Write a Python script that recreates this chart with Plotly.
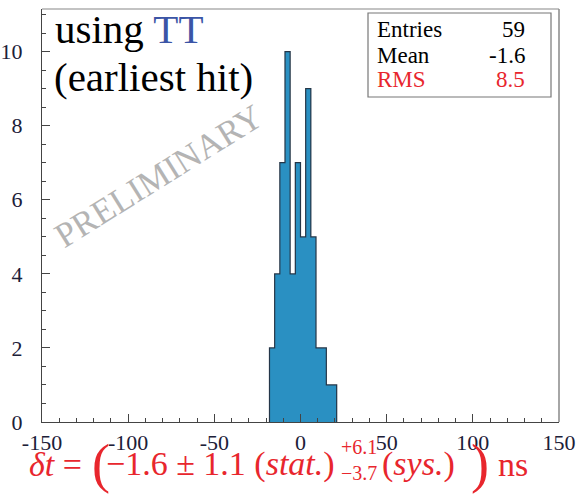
import plotly.graph_objects as go

# ---- data ----
bin_edges = [-18, -15, -12, -9, -6, -3, 0, 3, 6, 9, 12, 15, 18, 21]
counts = [2, 4, 7, 10, 4, 7, 5, 9, 5, 2, 2, 1, 1]
stat_labels = ["Entries", "Mean", "RMS"]
stat_values = ["59", "-1.6", "8.5"]
x_ticks = [-150, -100, -50, 0, 50, 100, 150]
y_ticks = [0, 2, 4, 6, 8, 10]

W, H = 579, 494
L, R, T, B = 42, 20, 9, 72
PW, PH = W - L - R, H - T - B


def px(x):
    return (x - L) / PW


def py(y):
    return (H - B - y) / PH


centers = [(bin_edges[i] + bin_edges[i + 1]) / 2 for i in range(len(counts))]
widths = [bin_edges[i + 1] - bin_edges[i] for i in range(len(counts))]

# step outline
ox, oy = [bin_edges[0]], [0]
for i, c in enumerate(counts):
    ox += [bin_edges[i], bin_edges[i + 1]]
    oy += [c, c]
ox.append(bin_edges[-1])
oy.append(0)

SERIF = "Liberation Serif"
RED = "#e8262d"
TICKC = "#1c2038"

fig = go.Figure()
fig.add_trace(go.Bar(x=centers, y=counts, width=widths,
                     marker=dict(color="#2a90c2", line=dict(width=0)),
                     showlegend=False, hoverinfo="skip"))
fig.add_trace(go.Scatter(x=ox, y=oy, mode="lines",
                         line=dict(color="#243648", width=1.2),
                         showlegend=False, hoverinfo="skip"))

axis_common = dict(
    showgrid=False, zeroline=False, showline=True, linecolor="#444", linewidth=1.2,
    ticks="inside", tickcolor="#444", ticklen=8, tickwidth=1, automargin=False,
    tickfont=dict(family=SERIF, size=22, color=TICKC),
)
fig.update_xaxes(range=[-150, 150], tickvals=x_ticks, ticktext=[str(v) for v in x_ticks],
                 minor=dict(dtick=10, ticks="inside", ticklen=4, tickcolor="#444", showgrid=False),
                 **axis_common)
fig.update_yaxes(range=[0, 11.15], tickvals=y_ticks,
                 ticktext=[str(v) for v in y_ticks],
                 ticklabelposition="outside", ticklabelstandoff=14,
                 minor=dict(dtick=0.5, ticks="inside", ticklen=4, tickcolor="#444", showgrid=False),
                 **axis_common)

shapes = [
    # top and right frame lines
    dict(type="line", xref="paper", yref="paper", x0=0, x1=1, y0=1, y1=1,
         line=dict(color="#888", width=1.2)),
    dict(type="line", xref="paper", yref="paper", x0=1, x1=1, y0=0, y1=1,
         line=dict(color="#888", width=1.5)),
    # stats box
    dict(type="rect", xref="paper", yref="paper", x0=px(368), x1=px(551), y0=py(97), y1=py(13),
         line=dict(color="#777", width=1.2), fillcolor="white"),
]

ann = []


def add(text, x, y, size, color="black", xanchor="left", yanchor="middle", angle=0, family=SERIF):
    ann.append(dict(text=text, x=px(x), y=py(y), xref="paper", yref="paper",
                    xanchor=xanchor, yanchor=yanchor, showarrow=False, textangle=angle,
                    font=dict(family=family, size=size, color=color)))


# stats box text
rows_y = [30, 55, 79]
for i, (lab, val) in enumerate(zip(stat_labels, stat_values)):
    col = RED if lab == "RMS" else "black"
    add(lab, 375, rows_y[i], 23, col)
    add(val, 527, rows_y[i], 23, col, xanchor="right")

# title text
add("using <span style='color:#3b55a6'>TT</span>", 53, 29, 41)
add("(earliest hit)", 52, 77, 41)

# watermark
add("PRELIMINARY", 158, 176, 35, color="#b4b4b4", xanchor="center", angle=-32)

# formula
FY = 464
add("<i>δt</i> =", 27, FY, 34, RED)
add("(", 90, 464, 54, RED)
add("−1.6 ± 1.1 (<i>stat.</i>)", 104, FY, 34, RED)
add("+6.1", 339, 447, 20, RED)
add("−3.7", 339, 473, 20, RED)
add("(<i>sys.</i>)", 380, FY, 34, RED)
add(")", 469, 464, 54, RED)
add("ns", 496, FY, 34, RED)

fig.update_layout(
    width=W, height=H, margin=dict(l=L, r=R, t=T, b=B),
    paper_bgcolor="white", plot_bgcolor="white",
    bargap=0, shapes=shapes, annotations=ann,
)

fig.write_html("out.html")
